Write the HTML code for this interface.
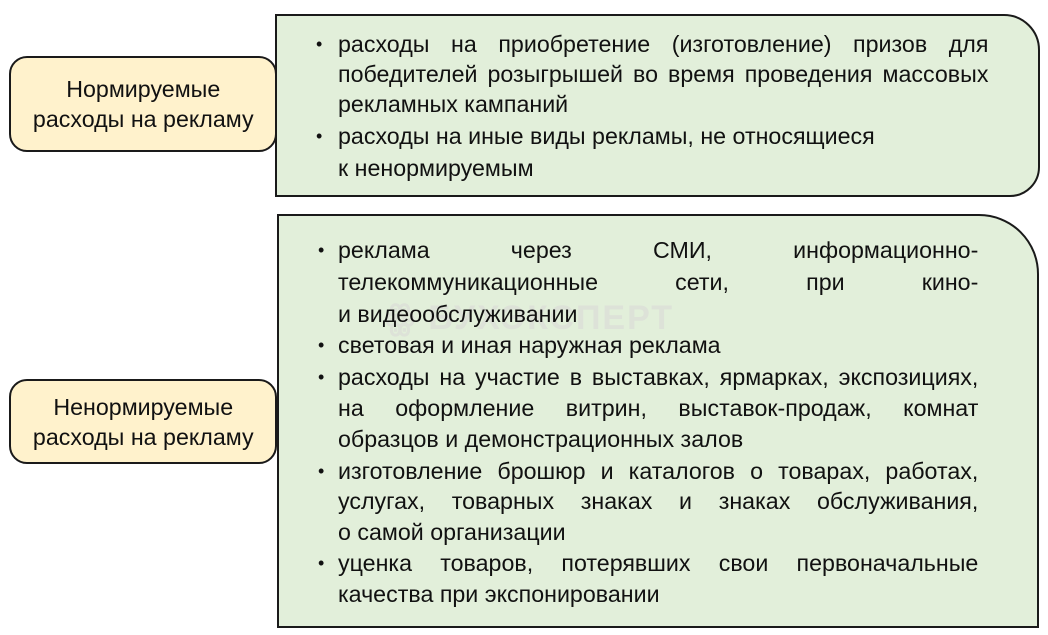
<!DOCTYPE html>
<html><head><meta charset="utf-8"><style>
body{margin:0;width:1048px;height:635px;background:#fff;position:relative;overflow:hidden;font-family:"Liberation Sans",sans-serif;color:#111}
.box{position:absolute;box-sizing:border-box;border:2px solid #1a1a1a}
.g{background:#e2efda}
.y{background:#fff2cc;border-radius:18px;text-align:center;font-size:23px;line-height:30px;display:flex;align-items:center;justify-content:center}
.y span{display:inline-block;transform:scaleX(1.01);white-space:nowrap}
.l{position:absolute;height:31px;line-height:31px;font-size:23px;white-space:nowrap;transform:scaleX(1.01);transform-origin:left center}
.j{text-align:justify;text-align-last:justify}
.b{position:absolute;font-size:18px;line-height:31px;height:31px}
.wm{position:absolute;left:385px;top:298px;font-size:34px;font-weight:bold;color:#dde2d8;letter-spacing:2px}
</style></head><body>
<div class="box y" style="left:9px;top:56px;width:268px;height:96px"><span>Нормируемые<br>расходы на рекламу</span></div>
<div class="box y" style="left:9px;top:379px;width:268px;height:85px"><span>Ненормируемые<br>расходы на рекламу</span></div>

<div class="box g" style="left:275px;top:14px;width:765px;height:183px;border-radius:0 36px 30px 0"></div>
<div class="box g" style="left:277px;top:214px;width:762px;height:414px;border-radius:0 60px 0 0"></div>
<div class="wm">ꙮ БУХЭКСПЕРТ</div>

<div class="b" style="left:316px;top:29px">•</div>
<div class="l j" style="left:338px;top:29px;width:644px">расходы на приобретение (изготовление) призов для</div>
<div class="l j" style="left:338px;top:59px;width:644px">победителей розыгрышей во время проведения массовых</div>
<div class="l" style="left:338px;top:89px">рекламных кампаний</div>
<div class="b" style="left:316px;top:121px">•</div>
<div class="l" style="left:338px;top:121px">расходы на иные виды рекламы, не относящиеся</div>
<div class="l" style="left:338px;top:153px">к ненормируемым</div>

<div class="b" style="left:318px;top:235px">•</div>
<div class="l j" style="left:338px;top:235px;width:634px">реклама через СМИ, информационно-</div>
<div class="l j" style="left:338px;top:267px;width:634px">телекоммуникационные сети, при кино-</div>
<div class="l" style="left:338px;top:299px">и видеообслуживании</div>
<div class="b" style="left:318px;top:330px">•</div>
<div class="l" style="left:338px;top:330px">световая и иная наружная реклама</div>
<div class="b" style="left:318px;top:362px">•</div>
<div class="l j" style="left:338px;top:362px;width:634px">расходы на участие в выставках, ярмарках, экспозициях,</div>
<div class="l j" style="left:338px;top:393px;width:634px">на оформление витрин, выставок-продаж, комнат</div>
<div class="l" style="left:338px;top:424px">образцов и демонстрационных залов</div>
<div class="b" style="left:318px;top:456px">•</div>
<div class="l j" style="left:338px;top:456px;width:634px">изготовление брошюр и каталогов о товарах, работах,</div>
<div class="l j" style="left:338px;top:486px;width:634px">услугах, товарных знаках и знаках обслуживания,</div>
<div class="l" style="left:338px;top:517px">о самой организации</div>
<div class="b" style="left:318px;top:548px">•</div>
<div class="l j" style="left:338px;top:548px;width:634px">уценка товаров, потерявших свои первоначальные</div>
<div class="l" style="left:338px;top:579px">качества при экспонировании</div>
</body></html>
